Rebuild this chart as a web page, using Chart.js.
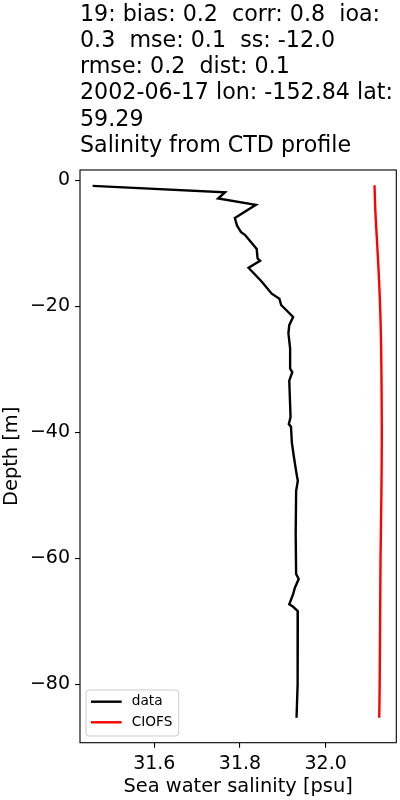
<!DOCTYPE html>
<html>
<head>
<meta charset="utf-8">
<script src="https://cdn.jsdelivr.net/npm/chart.js@4.4.1/dist/chart.umd.min.js"></script>
<style>
  html, body { margin: 0; padding: 0; background: #ffffff; }
  #wrap { width: 400px; height: 800px; position: relative; }
</style>
</head>
<body>
<div id="wrap"><canvas id="c" width="400" height="800"></canvas></div>
<script>
// ---- Data ----
const titleLines = [
  "19: bias: 0.2  corr: 0.8  ioa:",
  "0.3  mse: 0.1  ss: -12.0",
  "rmse: 0.2  dist: 0.1",
  "2002-06-17 lon: -152.84 lat:",
  "59.29",
  "Salinity from CTD profile"
];
const seriesNames = ["data", "CIOFS"];

// observed CTD profile
const depthData = [-0.9, -1.9, -2.9, -3.9, -6.0, -7.2, -8.2, -8.7, -10.9, -12.4, -12.8, -13.9,
  -16.1, -18.0, -18.8, -19.8, -21.7, -23.0, -24.3, -26.7, -29.9, -30.45, -31.8, -37.6,
  -38.7, -39.1, -41.6, -44.0, -46.6, -47.7, -49.3, -56.2, -62.5, -63.3, -64.7, -65.7,
  -67.3, -67.7, -68.4, -72.1, -80.0, -85.3];
const salinityData = [31.456, 31.765, 31.749, 31.837, 31.788, 31.793, 31.802, 31.812, 31.839, 31.841, 31.847, 31.820,
  31.851, 31.874, 31.892, 31.896, 31.924, 31.915, 31.913, 31.917, 31.917, 31.922, 31.915, 31.918,
  31.914, 31.919, 31.921, 31.926, 31.932, 31.935, 31.931, 31.930, 31.931, 31.937, 31.928, 31.924,
  31.915, 31.924, 31.935, 31.935, 31.934, 31.932];

// model (CIOFS) profile
const depthModel = [-0.8, -5, -10, -15, -20, -25, -30, -40, -50, -60, -70, -80, -85.3];
const salinityModel = [32.114, 32.116, 32.120, 32.124, 32.127, 32.129, 32.130, 32.131, 32.130, 32.128, 32.127, 32.126, 32.125];

// axes
const xLimits = [31.4266, 32.1648];
const yLimits = [-89.27, 1.63];
const xTicks = [31.6, 31.8, 32.0];
const yTicks = [0, -20, -40, -60, -80];
const xLabel = "Sea water salinity [psu]";
const yLabel = "Depth [m]";

// ---- Chart ----
const FONT = "'DejaVu Sans', 'Liberation Sans', sans-serif";

const boxPlugin = {
  id: 'box',
  afterDatasetsDraw(chart) {
    const a = chart.chartArea, ctx = chart.ctx;
    ctx.save();
    ctx.strokeStyle = '#000000';
    ctx.lineWidth = 1.1;
    ctx.strokeRect(a.left, a.top, a.right - a.left, a.bottom - a.top);
    ctx.restore();
  }
};

const legendPlugin = {
  id: 'mplLegend',
  afterDraw(chart) {
    const a = chart.chartArea, ctx = chart.ctx;
    const x = a.left + 6, w = 92.7, h = 46, y = a.bottom - 6.7 - h, r = 3;
    ctx.save();
    ctx.beginPath();
    ctx.moveTo(x + r, y);
    ctx.lineTo(x + w - r, y); ctx.quadraticCurveTo(x + w, y, x + w, y + r);
    ctx.lineTo(x + w, y + h - r); ctx.quadraticCurveTo(x + w, y + h, x + w - r, y + h);
    ctx.lineTo(x + r, y + h); ctx.quadraticCurveTo(x, y + h, x, y + h - r);
    ctx.lineTo(x, y + r); ctx.quadraticCurveTo(x, y, x + r, y);
    ctx.closePath();
    ctx.fillStyle = 'rgba(255,255,255,0.8)';
    ctx.fill();
    ctx.strokeStyle = '#cccccc';
    ctx.lineWidth = 1;
    ctx.stroke();
    ctx.font = "13.7px " + FONT;
    ctx.textBaseline = 'middle';
    ctx.textAlign = 'left';
    chart.data.datasets.forEach((ds, i) => {
      const yy = y + 11.7 + i * 20.6;
      ctx.beginPath();
      ctx.moveTo(x + 5, yy);
      ctx.lineTo(x + 35.7, yy);
      ctx.strokeStyle = ds.borderColor;
      ctx.lineWidth = 2.4;
      ctx.stroke();
      ctx.fillStyle = '#000000';
      ctx.fillText(ds.label, x + 45.7, yy);
    });
    ctx.restore();
  }
};

const toPoints = (xs, ys) => xs.map((v, i) => ({ x: v, y: ys[i] }));

new Chart(document.getElementById('c'), {
  type: 'scatter',
  data: {
    datasets: [
      {
        label: seriesNames[0],
        data: toPoints(salinityData, depthData),
        showLine: true,
        borderColor: '#000000',
        backgroundColor: '#000000',
        borderWidth: 2.4,
        pointRadius: 0,
        tension: 0
      },
      {
        label: seriesNames[1],
        data: toPoints(salinityModel, depthModel),
        showLine: true,
        borderColor: '#ff0000',
        backgroundColor: '#ff0000',
        borderWidth: 2.4,
        pointRadius: 0,
        tension: 0.3
      }
    ]
  },
  options: {
    responsive: false,
    animation: false,
    events: [],
    layout: { padding: { left: 0, right: 3.7, top: 0, bottom: 0 } },
    plugins: {
      legend: { display: false },
      tooltip: { enabled: false },
      title: {
        display: true,
        text: titleLines,
        align: 'start',
        fullSize: false,
        color: '#000000',
        font: { family: FONT, size: 22.2, weight: 'normal', lineHeight: 1.18 },
        padding: { top: 2.0, bottom: 10.8 }
      }
    },
    scales: {
      x: {
        type: 'linear',
        position: 'bottom',
        min: xLimits[0],
        max: xLimits[1],
        afterBuildTicks: (s) => { s.ticks = xTicks.map(v => ({ value: v })); },
        afterFit: (s) => { s.height = 57.3; },
        ticks: {
          color: '#000000',
          padding: 4.5,
          maxRotation: 0,
          font: { family: FONT, size: 19 },
          callback: (v) => Number(v).toFixed(1)
        },
        grid: { display: true, drawOnChartArea: false, drawTicks: true, tickLength: 5, color: '#000000', lineWidth: 1.1 },
        border: { display: false },
        title: {
          display: true,
          text: xLabel,
          color: '#000000',
          font: { family: FONT, size: 19.4, lineHeight: 1.2 },
          padding: { top: 0, bottom: 1.4 }
        }
      },
      y: {
        type: 'linear',
        position: 'left',
        min: yLimits[0],
        max: yLimits[1],
        afterBuildTicks: (s) => { s.ticks = yTicks.map(v => ({ value: v })); },
        afterFit: (s) => { s.width = 80; },
        ticks: {
          color: '#000000',
          padding: 5,
          font: { family: FONT, size: 19 },
          callback: (v) => (v < 0 ? '\u2212' + Math.abs(v) : String(v))
        },
        grid: { display: true, drawOnChartArea: false, drawTicks: true, tickLength: 5, color: '#000000', lineWidth: 1.1 },
        border: { display: false },
        title: {
          display: true,
          text: yLabel,
          color: '#000000',
          font: { family: FONT, size: 19.4, lineHeight: 1.2 },
          padding: { top: 0, bottom: 0 }
        }
      }
    }
  },
  plugins: [boxPlugin, legendPlugin]
});
</script>
</body>
</html>
